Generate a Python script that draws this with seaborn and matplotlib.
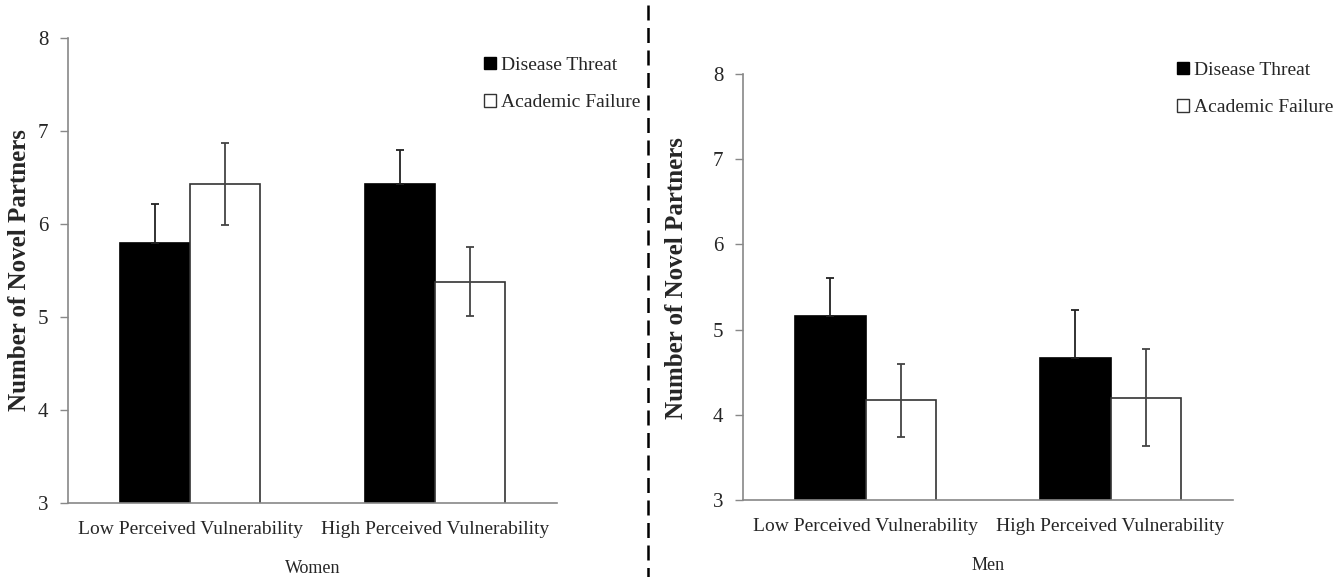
import matplotlib
matplotlib.use("Agg")
import matplotlib.pyplot as plt
import seaborn as sns
import pandas as pd
from matplotlib.patches import Patch
from matplotlib.lines import Line2D

categories = ["Low Perceived Vulnerability", "High Perceived Vulnerability"]
conditions = ["Disease Threat", "Academic Failure"]

women_disease = [5.80, 6.43]
women_academic = [6.43, 5.38]
women_disease_err = [0.41, 0.37]
women_academic_err = [0.44, 0.37]

men_disease = [5.16, 4.67]
men_academic = [4.17, 4.20]
men_disease_err = [0.45, 0.56]
men_academic_err = [0.43, 0.57]

y_ticks = [3, 4, 5, 6, 7, 8]

sns.set_style("white")
plt.rcParams["font.family"] = ["Liberation Serif", "DejaVu Serif"]

fig = plt.figure(figsize=(13.42, 5.77), dpi=100)
W, H = 1342, 577

def panel(rect, disease, academic, d_err, a_err, xlabel, legend_xy):
    ax = fig.add_axes(rect)
    df = pd.DataFrame({
        "cat": categories * 2,
        "cond": [conditions[0]] * 2 + [conditions[1]] * 2,
        "val": list(disease) + list(academic),
    })
    sns.barplot(data=df, x="cat", y="val", hue="cond", order=categories,
                hue_order=conditions, palette=["black", "white"],
                width=0.573, errorbar=None, ax=ax, legend=False,
                saturation=1)
    n = len(categories)
    for i, p in enumerate(ax.patches[:2 * n]):
        if i < n:
            p.set_edgecolor("black")
        else:
            p.set_edgecolor("#333333")
        p.set_linewidth(1.2)
    errs = list(d_err) + list(a_err)
    for i, p in enumerate(ax.patches[:2 * n]):
        xc = p.get_x() + p.get_width() / 2
        top = p.get_height()
        e = errs[i]
        lower = 0 if i < n else e
        col = "#222222" if i < n else "#444444"
        ax.errorbar([xc], [top], yerr=[[lower], [e]], fmt="none",
                    ecolor=col, elinewidth=1.3, capsize=3, capthick=1.3,
                    zorder=5)
    ax.set_ylim(3, 8)
    ax.set_xlim(-0.5, 1.5)
    ax.set_yticks(y_ticks)
    ax.set_yticklabels([str(t) for t in y_ticks], fontsize=15)
    ax.set_xticks(range(n))
    ax.set_xticklabels(categories, fontsize=14)
    ax.set_xticks([-0.5, 0.5, 1.5], minor=True)
    ax.tick_params(axis="x", which="major", length=0, pad=13)
    ax.tick_params(axis="x", which="minor", length=6, color="#888888", width=1)
    ax.tick_params(axis="y", which="major", length=6, color="#888888", width=1, pad=8, left=True)
    for s in ["top", "right"]:
        ax.spines[s].set_visible(False)
    for s in ["left", "bottom"]:
        ax.spines[s].set_color("#888888")
        ax.spines[s].set_linewidth(1.2)
    ax.set_xlabel(xlabel, fontsize=13, labelpad=16)
    ax.set_ylabel("Number of Novel Partners", fontsize=18, fontweight="bold")
    handles = [Patch(facecolor="black", edgecolor="black", label=conditions[0]),
               Patch(facecolor="white", edgecolor="#333333", label=conditions[1])]
    fig.legend(handles=handles, loc="upper left",
               bbox_to_anchor=(legend_xy[0] / W, 1 - legend_xy[1] / H),
               frameon=False, fontsize=14, handlelength=0.6, handleheight=0.6,
               handletextpad=0.25, labelspacing=1.05, borderaxespad=0,
               borderpad=0)
    return ax

ax1 = panel([68 / W, 1 - 503 / H, 489 / W, 465 / H],
            women_disease, women_academic, women_disease_err, women_academic_err,
            "Women", (484, 57))
ax1.yaxis.set_label_coords(-0.076, 0.5)

ax2 = panel([743 / W, 1 - 500 / H, 490 / W, 426 / H],
            men_disease, men_academic, men_disease_err, men_academic_err,
            "Men", (1177, 62))
ax2.yaxis.set_label_coords(-0.112, 0.52)

fig.add_artist(Line2D([648 / W, 648 / W], [1 - 5 / H, 0], transform=fig.transFigure,
                      color="black", linewidth=1.8, linestyle=(0, (6, 3))))

fig.savefig("out.png", dpi=100, facecolor="white")
